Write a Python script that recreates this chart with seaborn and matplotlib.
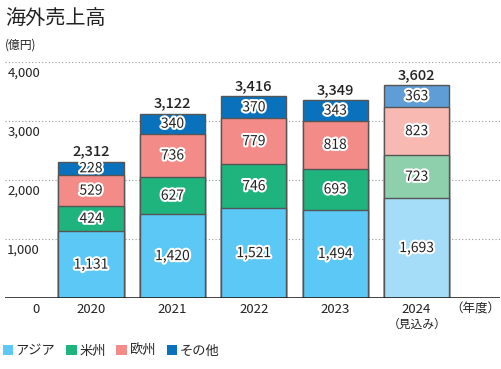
import matplotlib
matplotlib.use("Agg")
import matplotlib.pyplot as plt
import matplotlib.patheffects as pe
from matplotlib.patches import Patch
import numpy as np
import pandas as pd
import seaborn as sns

years = ["2020", "2021", "2022", "2023", "2024"]
asia = [1131, 1420, 1521, 1494, 1693]
americas = [424, 627, 746, 693, 723]
europe = [529, 736, 779, 818, 823]
other = [228, 340, 370, 343, 363]
totals = [2312, 3122, 3416, 3349, 3602]
series_names = ["アジア", "米州", "欧州", "その他"]

colors = ["#5bc8f5", "#1fb37e", "#f38c88", "#0a72bd"]
colors_fc = ["#a5dcf7", "#8ecfac", "#f8b9b3", "#5f9dd6"]

sns.set_theme(style="white")
plt.rcParams["font.family"] = ["Noto Sans CJK JP", "DejaVu Sans"]

fig = plt.figure(figsize=(5.01, 3.69), dpi=100)
ax = fig.add_axes([5 / 501, 1 - 298 / 369, 495 / 501, 236 / 369])

layers = [asia, americas, europe, other]
cum = np.cumsum(np.array(layers), axis=0)

# draw from the top layer down so lower segments sit in front
for i in range(3, -1, -1):
    df = pd.DataFrame({"year": years, "value": cum[i]})
    pal = [colors[i]] * 4 + [colors_fc[i]]
    sns.barplot(data=df, x="year", y="value", hue="year", palette=pal,
                legend=False, width=0.8, edgecolor="#555555", linewidth=1,
                saturation=1, ax=ax, zorder=3)

stroke = [pe.withStroke(linewidth=3, foreground="white")]
for j in range(len(years)):
    base = 0
    for i, layer in enumerate(layers):
        v = layer[j]
        ax.text(j, base + v / 2, f"{v:,}", ha="center", va="center",
                fontsize=10, color="#222222", path_effects=stroke, zorder=5)
        base += v
    ax.text(j, totals[j] + 60, f"{totals[j]:,}", ha="center", va="bottom",
            fontsize=10.5, fontweight="medium", color="#222222", zorder=5,
            clip_on=False)

ax.set_xlim(-1.057, 5.024)
ax.set_ylim(0, 4000)
for yv in [1000, 2000, 3000, 4000]:
    ax.axhline(yv, color="#999999", linestyle=(0, (1, 2)), linewidth=0.8, zorder=1)
ax.axhline(0, color="#222222", linewidth=1.2, zorder=4)

for s in ax.spines.values():
    s.set_visible(False)
ax.set_xticks([])
ax.set_yticks([])
ax.set_xlabel("")
ax.set_ylabel("")

trans = ax.get_yaxis_transform()
for yv in [0, 1000, 2000, 3000, 4000]:
    ax.text(35 / 495, yv - 80, f"{yv:,}", transform=trans, ha="right", va="top",
            fontsize=9.5, color="#222222", clip_on=False)

for j, y in enumerate(years):
    ax.text(j, -80, y, ha="center", va="top", fontsize=9.5, color="#222222",
            clip_on=False)
ax.text(4, -330, "（見込み）", ha="center", va="top", fontsize=8.5,
        color="#222222", clip_on=False)
ax.text(4.72, -80, "（年度）", ha="center", va="top", fontsize=9,
        color="#222222", clip_on=False)

fig.text(5 / 501, 1 - 18 / 369, "海外売上高", ha="left", va="center",
         fontsize=14.5, color="#222222")
fig.text(5 / 501, 1 - 45 / 369, "(億円)", ha="left", va="center",
         fontsize=8.5, color="#222222")

handles = [Patch(facecolor=c, edgecolor="none") for c in colors]
fig.legend(handles, series_names, loc="center left", ncol=4,
           bbox_to_anchor=(0, 1 - 351 / 369), frameon=False, fontsize=9.5,
           handlelength=0.8, handleheight=0.8, handletextpad=0.2,
           columnspacing=0.8, borderaxespad=0, borderpad=0.2)

fig.savefig("out.png", dpi=100)
